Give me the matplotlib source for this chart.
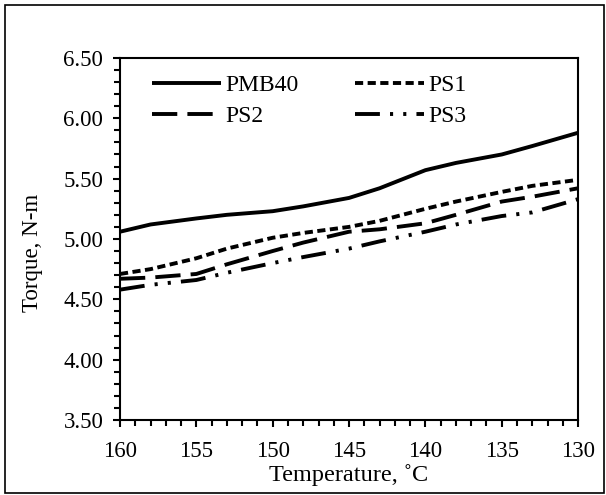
import matplotlib
matplotlib.use("Agg")
import matplotlib.pyplot as plt
from matplotlib.patches import Rectangle
from matplotlib.ticker import MultipleLocator, FormatStrFormatter

plt.rcParams["font.family"] = ["Liberation Serif", "DejaVu Serif"]

temperature = [160, 158, 155, 153, 150, 148, 145, 143, 140, 138, 135, 133, 130]
pmb40 = [5.06, 5.12, 5.17, 5.20, 5.23, 5.27, 5.34, 5.42, 5.57, 5.63, 5.70, 5.77, 5.88]
ps1 = [4.71, 4.75, 4.84, 4.92, 5.01, 5.05, 5.10, 5.15, 5.25, 5.31, 5.39, 5.44, 5.49]
ps2 = [4.67, 4.68, 4.71, 4.79, 4.90, 4.97, 5.06, 5.08, 5.13, 5.20, 5.31, 5.35, 5.42]
ps3 = [4.58, 4.62, 4.66, 4.72, 4.80, 4.85, 4.92, 4.98, 5.06, 5.12, 5.19, 5.22, 5.33]

fig = plt.figure(figsize=(6.06, 4.95), dpi=100)
ax = fig.add_axes([0.198, 0.1515, 0.756, 0.7315])

lw = 2.8
h1, = ax.plot(temperature, pmb40, color="black", lw=lw, solid_capstyle="butt")
h2, = ax.plot(temperature, ps1, color="black", lw=lw, dashes=(2.1, 1.15))
h3, = ax.plot(temperature, ps2, color="black", lw=lw, dashes=(6.5, 2.6))
h4, = ax.plot(temperature, ps3, color="black", lw=lw,
              dashes=(6.4, 2.6, 0.8, 2.6, 0.8, 2.6))

ax.set_xlim(160, 130)
ax.set_ylim(3.5, 6.5)
ax.xaxis.set_major_locator(MultipleLocator(5))
ax.xaxis.set_minor_locator(MultipleLocator(1))
ax.yaxis.set_major_locator(MultipleLocator(0.5))
ax.yaxis.set_minor_locator(MultipleLocator(0.1))
ax.yaxis.set_major_formatter(FormatStrFormatter("%.2f"))

for s in ax.spines.values():
    s.set_linewidth(1.5)
ax.tick_params(which="both", direction="out", width=1.5, labelsize=16.5,
               top=False, right=False)
ax.tick_params(which="major", length=5)
ax.tick_params(which="minor", length=4)
ax.tick_params(axis="y", which="major", pad=7)
ax.tick_params(axis="x", which="major", pad=10)

ax.set_xlabel("Temperature, ˚C", fontsize=17.5, va="center")
ax.set_ylabel("Torque, N-m", fontsize=16.5, va="center")
ax.xaxis.set_label_coords(0.5, -0.152)
ax.yaxis.set_label_coords(-0.192, 0.461)

ax.legend([h1, h3, h2, h4], ["PMB40", "PS2", "PS1", "PS3"], ncol=2,
          loc="upper left", bbox_to_anchor=(0.07, 0.953), frameon=False,
          fontsize=17, handlelength=2.9, handletextpad=0.2,
          columnspacing=2.4, labelspacing=0.38, borderaxespad=0.0,
          borderpad=0.0)

fig.patches.append(Rectangle((0.009, 0.004), 0.988, 0.986, fill=False,
                             edgecolor="black", lw=1.2,
                             transform=fig.transFigure, figure=fig))

fig.savefig("out.png", dpi=100)
